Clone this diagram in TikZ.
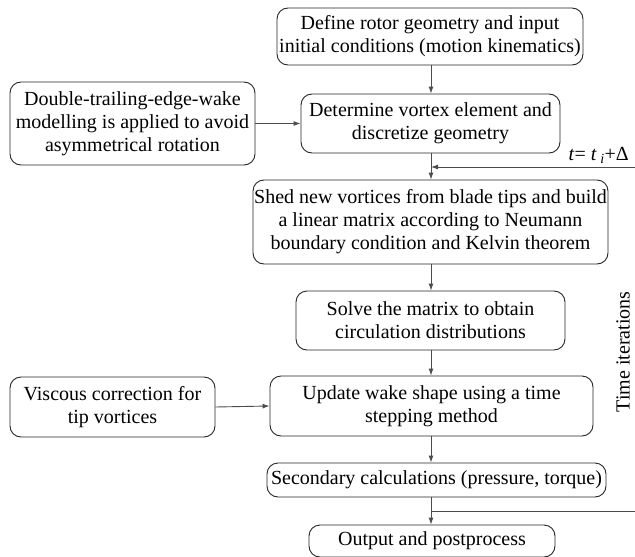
\documentclass[tikz,border=0pt]{standalone}
\usepackage{fontspec}
\setmainfont{Liberation Serif}
\usetikzlibrary{arrows.meta}

\begin{document}
\begin{tikzpicture}[x=1pt,y=-1pt,
  box/.style={draw=black!85,line width=0.9pt,rounded corners=11pt,align=center,inner sep=0pt,
    font=\fontsize{20}{23}\selectfont},
  link/.style={draw=black!70,line width=0.9pt,-{Latex[length=7pt,width=5pt]}},
  plain/.style={draw=black!70,line width=0.9pt}]
\useasboundingbox (0,0) rectangle (635,557);

% Main column
\node[box,minimum width=306pt,minimum height=57pt] (geom) at (430,36.5)
  {Define rotor geometry and input\\initial conditions (motion kinematics)};
\node[box,minimum width=259pt,minimum height=59pt] (discr) at (430.5,123.5)
  {Determine vortex element and\\discretize geometry};
\node[box,minimum width=355pt,minimum height=84pt] (shed) at (430.5,222)
  {Shed new vortices from blade tips and build\\a linear matrix according to Neumann\\boundary condition and Kelvin theorem};
\node[box,minimum width=269pt,minimum height=59pt] (solve) at (430.5,320.5)
  {Solve the matrix to obtain\\circulation distributions};
\node[box,minimum width=323pt,minimum height=60pt] (wake) at (431.5,406)
  {Update wake shape using a time\\stepping method};
\node[box,minimum width=339pt,minimum height=34pt] (second) at (436.5,480)
  {Secondary calculations (pressure, torque)};
\node[box,minimum width=246pt,minimum height=32pt] (output) at (432,541)
  {Output and postprocess};

% Left-hand boxes
\node[box,minimum width=245pt,minimum height=83pt] (dtwake) at (132.5,123.5)
  {Double-trailing-edge-wake\\modelling is applied to avoid\\asymmetrical rotation};
\node[box,minimum width=205pt,minimum height=60pt] (viscous) at (112.5,407)
  {Viscous correction for\\tip vortices};

% Arrows down the column
\draw[link] (geom.south -| 431,0) -- (discr.north -| 431,0);
\draw[link] (discr.south -| 431,0) -- (shed.north -| 431,0);
\draw[link] (shed.south -| 431,0) -- (solve.north -| 431,0);
\draw[link] (solve.south -| 431,0) -- (wake.north -| 431,0);
\draw[link] (wake.south -| 431,0) -- (second.north -| 431,0);
\draw[link] (second.south -| 431,0) -- (output.north -| 431,0);

% Side inputs
\draw[link] (dtwake.east) -- (discr.west);
\draw[link] (viscous.east) -- (wake.west);

% Time loop
\coordinate (loopin) at (635,167);
\coordinate (loopout) at (635,511);
\draw[link] (loopin) -- (431,167);
\draw[plain] (431,511) -- (loopout);
\node[anchor=base east,inner sep=0pt,font=\fontsize{20}{23}\selectfont] (tstep) at (629,160)
  {\textit{t}= \textit{t}\,\textsubscript{\textit{i}}+Δ};
\node[rotate=90,anchor=south,inner sep=0pt,font=\fontsize{20}{23}\selectfont] (titer) at (630,352)
  {Time iterations};
\end{tikzpicture}
\end{document}
